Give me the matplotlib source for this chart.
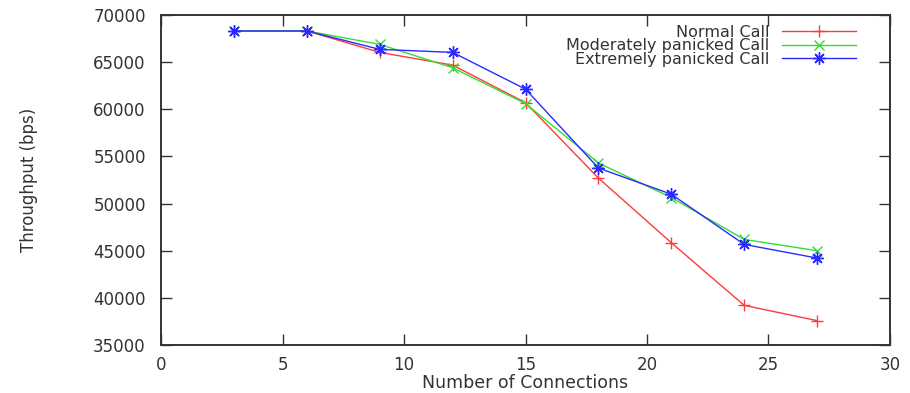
import matplotlib
matplotlib.use('Agg')
import matplotlib.pyplot as plt

connections = [3, 6, 9, 12, 15, 18, 21, 24, 27]
normal = [68300, 68300, 66030, 64680, 60700, 52700, 45850, 39210, 37590]
moderate = [68300, 68300, 66880, 64400, 60600, 54300, 50640, 46200, 45000]
extreme = [68300, 68300, 66350, 66030, 62130, 53770, 50990, 45670, 44220]

labels = ['Normal Call', 'Moderately panicked Call', 'Extremely panicked Call']

plt.rcParams['font.family'] = ['DejaVu Sans']

fig = plt.figure(figsize=(9.1, 3.93), dpi=100)
ax = fig.add_axes([0.177, 0.122, 0.801, 0.840])

ax.plot(connections, normal, color='#ff3a3a', lw=1.0, marker='+', ms=8, mew=1.0, label=labels[0])
ax.plot(connections, moderate, color='#30e030', lw=1.0, marker='x', ms=7, mew=1.0, label=labels[1])
ax.plot(connections, extreme, color='#2a2aff', lw=1.0, marker=(8, 2, 0), ms=9, mew=1.0, label=labels[2])

ax.set_xlim(0, 30)
ax.set_ylim(35000, 70000)
ax.set_xticks(range(0, 31, 5))
ax.set_yticks(range(35000, 70001, 5000))

for s in ax.spines.values():
    s.set_color('#333333')
    s.set_linewidth(1.4)
ax.tick_params(direction='in', length=8, width=1.0, color='#333333',
               top=True, right=True, labelsize=12, labelcolor='#333333')
ax.tick_params(axis='y', pad=11)
ax.tick_params(axis='x', pad=8)

ax.set_xlabel('Number of Connections', fontsize=12.5, color='#333333', labelpad=0)
ax.set_ylabel('Throughput (bps)', fontsize=12, color='#333333', labelpad=40,
              family=['Liberation Sans Narrow', 'DejaVu Sans'])

# markerfirst=False puts the sample right of the text, rows right-aligned
leg = ax.legend(loc='upper right', bbox_to_anchor=(0.962, 0.99), frameon=False,
                markerfirst=False, fontsize=11.5, handlelength=4.6, handletextpad=0.8,
                labelspacing=-0.08, borderaxespad=0)
for t in leg.get_texts():
    t.set_color('#333333')

fig.savefig('out.png', dpi=100)
